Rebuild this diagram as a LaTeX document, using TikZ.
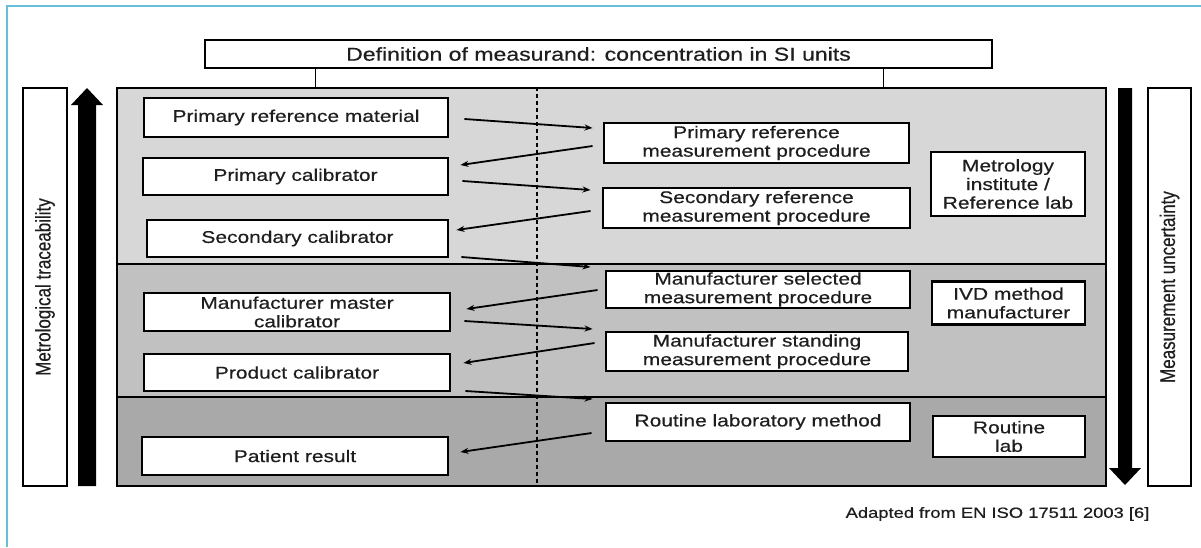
\documentclass[tikz,border=0pt]{standalone}
\usepackage{fontspec}
\setmainfont{Liberation Sans}[FakeStretch=1.24,FakeBold=0.5]
\newfontfamily\rotfont{Liberation Sans}[FakeBold=0.5]
\usetikzlibrary{arrows.meta,calc}
\definecolor{frameblue}{HTML}{66BFD6}
\definecolor{bandA}{HTML}{D7D7D7}
\definecolor{bandB}{HTML}{C1C1C1}
\definecolor{bandC}{HTML}{A9A9A9}
\definecolor{txt}{HTML}{1E1E1E}
\newcommand{\mainsz}{\fontsize{16.9}{18.6}\selectfont}
\begin{document}
\begin{tikzpicture}[x=1pt,y=-1pt,
  box/.style={draw=black, line width=2.9pt, fill=white, inner sep=0pt, align=center, font=\mainsz, text=txt},
  sidebox/.style={draw=black, line width=2.7pt, fill=white, inner sep=0pt, minimum height=398pt},
  flow/.style={line width=1.8pt, -{Stealth[length=8pt,width=6pt]}},
  bigarrow/.style={fill=black, draw=none}
]
\useasboundingbox (0,0) rectangle (1201,547);
\fill[white] (0,0) rectangle (1201,547);
% outer frame
\draw[frameblue, line width=2.2pt] (1201,6) -- (7,6) -- (7,547);

% bands
\fill[bandA] (117,88) rectangle (1106,264);
\fill[bandB] (117,264) rectangle (1106,397);
\fill[bandC] (117,397) rectangle (1106,486);
\draw[line width=2.4pt] (117,264) -- (1106,264);
\draw[line width=2.4pt] (117,397) -- (1106,397);
\node[draw=black, line width=2.8pt, minimum width=989pt, minimum height=398pt, inner sep=0pt] (main) at (611.5,287) {};
\draw[line width=1.8pt, dash pattern=on 4pt off 3pt] (main.north -| 537,0) -- (main.south -| 537,0);

% definition
\node[box, minimum width=787pt, minimum height=28pt, font=\fontsize{18.6}{20}\selectfont] (def) at (598.5,54) {Definition of measurand: concentration in SI units};
\draw[line width=1.6pt] ([xshift=112pt]def.south west) -- ([xshift=112pt]def.south west |- main.north);
\draw[line width=1.6pt] ([xshift=-110pt]def.south east) -- ([xshift=-110pt]def.south east |- main.north);

% left boxes
\node[box, minimum width=304pt, minimum height=39pt] (prm) at (296,117.5) {Primary reference material};
\node[box, minimum width=305pt, minimum height=37pt] (pc) at (295.5,176.5) {Primary calibrator};
\node[box, minimum width=301pt, minimum height=37pt] (sc) at (297.5,238.5) {Secondary calibrator};
\node[box, minimum width=306pt, minimum height=38pt] (mmc) at (297,312) {Manufacturer master\\calibrator};
\node[box, minimum width=306pt, minimum height=37pt] (prc) at (297,372.5) {Product calibrator};
\node[box, minimum width=306pt, minimum height=38pt] (pr) at (295,456) {Patient result};

% right boxes
\node[box, minimum width=305pt, minimum height=40pt] (prp) at (756.5,143) {Primary reference\\measurement procedure};
\node[box, minimum width=307pt, minimum height=40pt] (srp) at (756.5,208) {Secondary reference\\measurement procedure};
\node[box, minimum width=304pt, minimum height=37pt] (msp) at (758,289.5) {Manufacturer selected\\measurement procedure};
\node[box, minimum width=302pt, minimum height=39pt] (mst) at (757,351.5) {Manufacturer standing\\measurement procedure};
\node[box, minimum width=304pt, minimum height=38pt] (rlm) at (758,422) {Routine laboratory method};

% organisation boxes
\node[box, minimum width=154pt, minimum height=64pt] (met) at (1008,184) {Metrology\\institute /\\Reference lab};
\node[box, minimum width=153pt, minimum height=43pt] (ivd) at (1008.5,303) {IVD method\\manufacturer};
\node[box, minimum width=152pt, minimum height=41pt] (rl) at (1009,436.5) {Routine\\lab};

% side labels
\node[sidebox, minimum width=44pt] (trace) at (45,287) {};
\node[rotate=90, text=txt] at (trace.center) {\scalebox{1}[1.24]{\rotfont\fontsize{17}{19}\selectfont Metrological traceability}};
\node[sidebox, minimum width=43pt] (unc) at (1169.5,287) {};
\node[rotate=90, text=txt] at (unc.center) {\scalebox{1}[1.24]{\rotfont\fontsize{17}{19}\selectfont Measurement uncertainty}};

% big arrows
\fill[bigarrow] (78,486) -- (78,105) -- (71,105) -- (87,88) -- (103,105) -- (96,105) -- (96,486) -- cycle;
\fill[bigarrow] (1118,88) -- (1118,468) -- (1109,468) -- (1125,485) -- (1141,468) -- (1132,468) -- (1132,88) -- cycle;

% flow arrows
\draw[flow] ([shift={(15,1.5)}]prm.east) -- ([shift={(-10,-15)}]prp.west);
\draw[flow] ([shift={(-10,3)}]prp.west) -- ([shift={(11,-11.5)}]pc.east);
\draw[flow] ([shift={(13,4.5)}]pc.east) -- ([shift={(-11,-18)}]srp.west);
\draw[flow] ([shift={(-11,3)}]srp.west) -- ([shift={(7,-8.5)}]sc.east);
\draw[flow] ([shift={(12,18.5)}]sc.east) -- ([shift={(-14,-22.5)}]msp.west);
\draw[flow] ([shift={(-7,0.5)}]msp.west) -- ([shift={(15,-3)}]mmc.east);
\draw[flow] ([shift={(13,9)}]mmc.east) -- ([shift={(-12,-22.5)}]mst.west);
\draw[flow] ([shift={(-10,-8.5)}]mst.west) -- ([shift={(12,-9.5)}]prc.east);
\draw[flow] ([shift={(14,18.5)}]prc.east) -- ([shift={(-12,-23)}]rlm.west);
\draw[flow] ([shift={(-13,11)}]rlm.west) -- ([shift={(11,-4)}]pr.east);

% footer
\node[text=txt, font=\fontsize{14.8}{16}\selectfont] (src) at (997.5,514) {Adapted from EN ISO 17511 2003 [6]};
\end{tikzpicture}
\end{document}
